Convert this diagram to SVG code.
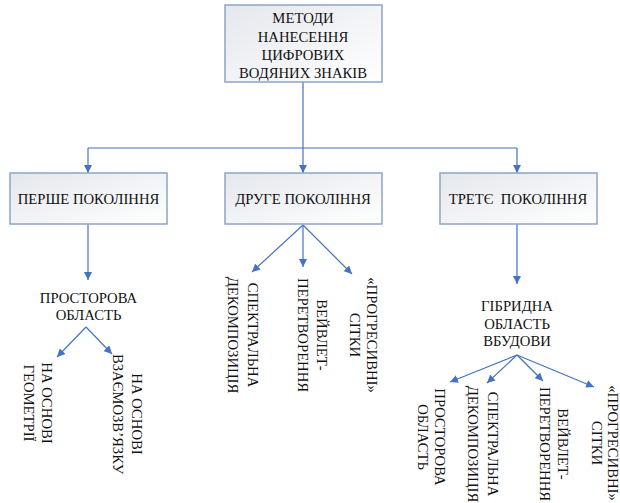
<svg xmlns="http://www.w3.org/2000/svg" width="620" height="503" viewBox="0 0 620 503">
<defs>
<linearGradient id="bg" x1="0" y1="0" x2="1" y2="1">
<stop offset="0" stop-color="#e4e7ec"/>
<stop offset="1" stop-color="#ffffff"/>
</linearGradient>
<marker id="ah" viewBox="0 0 10 10" refX="10" refY="5" markerWidth="8" markerHeight="8" markerUnits="userSpaceOnUse" orient="auto">
<path d="M0,0 L10,5 L0,10 z" fill="#4472C4"/>
</marker>
</defs>
<style>
.box{fill:url(#bg);stroke:#8ea5c2;stroke-width:1.5}
.t{font-family:"Liberation Serif","Times New Roman",serif;font-size:14.7px;fill:#111111;text-anchor:middle}
.c{fill:none;stroke:#4472C4;stroke-width:1.2}
.a{fill:none;stroke:#4472C4;stroke-width:1.2;marker-end:url(#ah)}
</style>
<rect width="620" height="503" fill="#ffffff"/>
<g id="connectors">
<path class="c" d="M303,82 V148 M88,148 H517"/>
<path class="a" d="M88,148 V173"/>
<path class="a" d="M303,148 V173"/>
<path class="a" d="M517,148 V173"/>
<path class="a" d="M88,224 V280"/>
<path class="a" d="M86,327 L57,357"/>
<path class="a" d="M86,327 L112,354"/>
<path class="a" d="M303,225 L252,272"/>
<path class="a" d="M303,225 L303,267"/>
<path class="a" d="M303,225 L352,274"/>
<path class="a" d="M517,224 V284"/>
<path class="a" d="M517,355 L450,382"/>
<path class="a" d="M517,355 L487,383"/>
<path class="a" d="M517,355 L543,381"/>
<path class="a" d="M517,355 L594,387"/>
</g>
<g id="root">
<rect class="box" x="225" y="5" width="157" height="77"/>
<text class="t"><tspan x="303" y="23">МЕТОДИ</tspan><tspan x="303" y="41.5">НАНЕСЕННЯ</tspan><tspan x="303" y="60">ЦИФРОВИХ</tspan><tspan x="303" y="78">ВОДЯНИХ ЗНАКІВ</tspan></text>
</g>
<g id="gen1">
<rect class="box" x="10" y="173" width="157" height="51"/>
<text class="t" x="88.5" y="204">ПЕРШЕ ПОКОЛІННЯ</text>
</g>
<g id="gen2">
<rect class="box" x="225" y="173" width="157" height="51"/>
<text class="t" x="303" y="204">ДРУГЕ ПОКОЛІННЯ</text>
</g>
<g id="gen3">
<rect class="box" x="440" y="173" width="157" height="51"/>
<text class="t" x="518" y="204" xml:space="preserve">ТРЕТЄ  ПОКОЛІННЯ</text>
</g>
<g id="spatial1">
<text class="t"><tspan x="88.5" y="303">ПРОСТОРОВА</tspan><tspan x="88.5" y="320">ОБЛАСТЬ</tspan></text>
</g>
<g id="geom">
<text class="t" transform="translate(42,403) rotate(90)"><tspan x="0" y="0">НА ОСНОВІ</tspan><tspan x="0" y="18">ГЕОМЕТРІЇ</tspan></text>
</g>
<g id="relat">
<text class="t" transform="translate(132,414) rotate(90)"><tspan x="0" y="0">НА ОСНОВІ</tspan><tspan x="0" y="19">ВЗАЄМОЗВ’ЯЗКУ</tspan></text>
</g>
<g id="spec2">
<text class="t" transform="translate(248,335) rotate(90)"><tspan x="0" y="0">СПЕКТРАЛЬНА</tspan><tspan x="0" y="20">ДЕКОМПОЗИЦІЯ</tspan></text>
</g>
<g id="wave2">
<text class="t" transform="translate(317,335) rotate(90)"><tspan x="0" y="0">ВЕЙВЛЕТ-</tspan><tspan x="0" y="19">ПЕРЕТВОРЕННЯ</tspan></text>
</g>
<g id="prog2">
<text class="t" transform="translate(367,335) rotate(90)"><tspan x="0" y="0">«ПРОГРЕСИВНІ»</tspan><tspan x="0" y="17">СІТКИ</tspan></text>
</g>
<g id="hybrid">
<text class="t"><tspan x="517" y="311">ГІБРИДНА</tspan><tspan x="517" y="328.5">ОБЛАСТЬ</tspan><tspan x="517" y="346">ВБУДОВИ</tspan></text>
</g>
<g id="spatial3">
<text class="t" transform="translate(435,437) rotate(90)"><tspan x="0" y="0">ПРОСТОРОВА</tspan><tspan x="0" y="17">ОБЛАСТЬ</tspan></text>
</g>
<g id="spec3">
<text class="t" transform="translate(488,444) rotate(90)"><tspan x="0" y="0">СПЕКТРАЛЬНА</tspan><tspan x="0" y="20">ДЕКОМПОЗИЦІЯ</tspan></text>
</g>
<g id="wave3">
<text class="t" transform="translate(558,444) rotate(90)"><tspan x="0" y="0">ВЕЙВЛЕТ-</tspan><tspan x="0" y="18">ПЕРЕТВОРЕННЯ</tspan></text>
</g>
<g id="prog3">
<text class="t" transform="translate(608,443) rotate(90)"><tspan x="0" y="0">«ПРОГРЕСИВНІ»</tspan><tspan x="0" y="16">СІТКИ</tspan></text>
</g>
</svg>
